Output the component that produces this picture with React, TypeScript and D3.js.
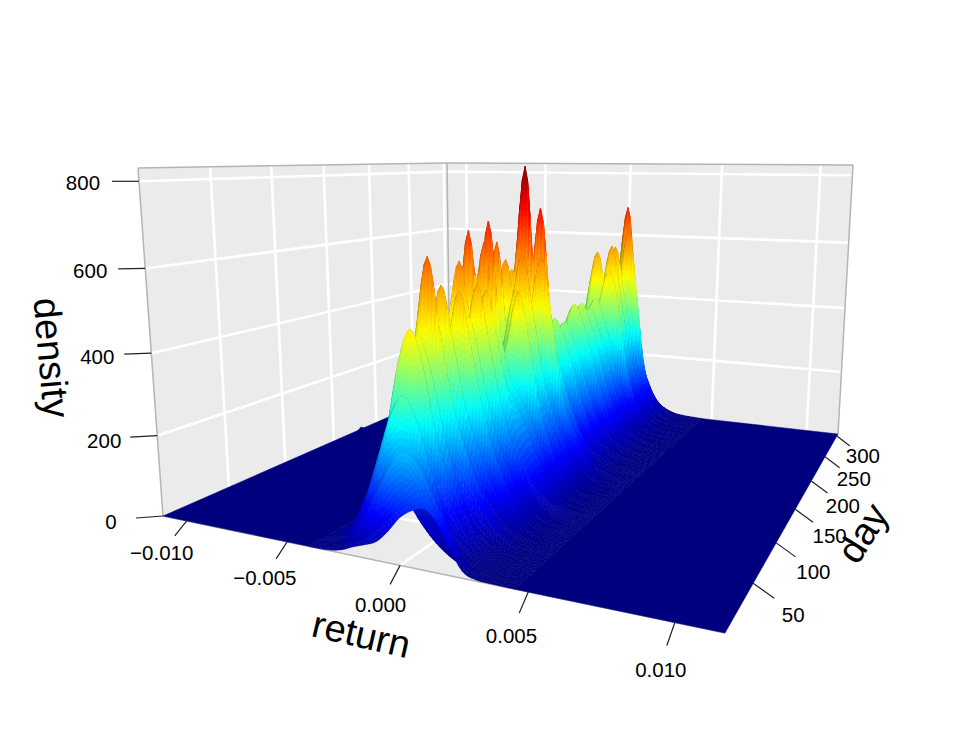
import React, { useMemo } from "react";
import * as d3 from "d3";

const W = 969, H = 754;
const FONT = "'Liberation Sans', Arimo, Helvetica, Arial, sans-serif";

// ---- data ----
const returnTicks = [-0.01, -0.005, 0, 0.005, 0.01];
const returnTickLabels = ["−0.010", "−0.005", "0.000", "0.005", "0.010"];
const dayTicks = [50, 100, 150, 200, 250, 300];
const densityTicks = [0, 200, 400, 600, 800];

const returnGrid = [-0.0035, -0.003, -0.0025, -0.002, -0.0015, -0.001, -0.0005, 0, 0.0005, 0.001, 0.0015, 0.002, 0.0025, 0.003, 0.0035];

const dayGrid = [0, 5, 8, 14, 18, 21, 24, 28, 32, 37, 44, 50, 53, 56, 61, 66, 70, 75, 78, 80, 85, 90, 95, 98, 100, 105, 110, 115, 120, 123, 125, 128, 131, 134, 137, 139, 142, 145, 149, 152, 165, 175, 183, 190, 198, 206, 212, 218, 225, 232, 237, 242, 245, 249, 255, 261, 266, 271, 274, 278, 282, 286, 294, 302, 305];

const densityRows = [
  [0, 2, 8, 20, 30, 42, 70, 105, 125, 135, 110, 60, 15, 3, 1],
  [5, 12, 31, 65, 115, 173, 221, 240, 221, 173, 115, 65, 22, 4, 1],
  [1, 4, 11, 24, 46, 74, 102, 120, 86, 54, 30, 14, 6, 2, 1],
  [12, 32, 67, 133, 220, 308, 350, 308, 220, 133, 67, 28, 8, 2, 0],
  [2, 6, 17, 38, 72, 118, 162, 190, 137, 86, 48, 23, 10, 4, 1],
  [10, 25, 59, 137, 270, 416, 490, 416, 270, 175, 95, 40, 14, 4, 1],
  [3, 8, 23, 52, 99, 161, 221, 260, 187, 117, 65, 31, 13, 5, 2],
  [9, 24, 56, 132, 259, 400, 470, 400, 270, 170, 95, 42, 16, 5, 2],
  [2, 7, 22, 48, 91, 149, 204, 240, 173, 108, 60, 29, 12, 5, 1],
  [9, 24, 55, 110, 232, 470, 640, 470, 320, 225, 150, 95, 50, 20, 7],
  [3, 8, 25, 56, 106, 174, 238, 280, 202, 126, 70, 34, 14, 6, 2],
  [9, 23, 51, 103, 217, 428, 570, 440, 300, 210, 140, 90, 48, 20, 7],
  [3, 9, 26, 58, 110, 180, 247, 290, 209, 131, 73, 35, 15, 6, 2],
  [7, 18, 44, 90, 160, 240, 416, 555, 430, 290, 190, 120, 62, 26, 9],
  [3, 8, 23, 52, 99, 161, 221, 260, 187, 117, 65, 31, 13, 5, 2],
  [4, 10, 25, 59, 137, 270, 416, 490, 380, 255, 165, 105, 55, 24, 8],
  [3, 8, 25, 56, 106, 174, 238, 280, 202, 126, 70, 34, 14, 6, 2],
  [7, 18, 44, 90, 160, 240, 420, 560, 430, 295, 195, 125, 68, 30, 11],
  [3, 9, 27, 60, 114, 186, 255, 300, 216, 135, 75, 36, 15, 6, 2],
  [24, 55, 110, 232, 458, 610, 458, 330, 270, 230, 175, 115, 62, 26, 9],
  [7, 18, 44, 90, 160, 240, 405, 540, 415, 285, 185, 118, 65, 28, 10],
  [20, 44, 99, 197, 422, 680, 422, 340, 300, 255, 195, 128, 72, 33, 12],
  [8, 20, 42, 94, 189, 403, 650, 420, 310, 255, 195, 125, 68, 30, 11],
  [3, 9, 26, 58, 110, 180, 247, 290, 209, 131, 73, 35, 15, 6, 2],
  [9, 21, 46, 102, 203, 434, 700, 450, 320, 265, 205, 135, 75, 34, 12],
  [3, 9, 28, 62, 118, 192, 264, 310, 223, 140, 78, 37, 16, 6, 2],
  [6, 14, 36, 80, 140, 220, 300, 400, 525, 400, 240, 145, 80, 36, 12],
  [3, 9, 27, 60, 114, 186, 255, 300, 216, 135, 75, 36, 15, 6, 2],
  [7, 18, 44, 90, 160, 240, 390, 520, 400, 275, 180, 115, 62, 26, 9],
  [19, 42, 93, 186, 397, 640, 397, 320, 290, 245, 190, 125, 68, 30, 11],
  [3, 9, 26, 58, 110, 180, 247, 290, 209, 131, 73, 35, 15, 6, 2],
  [7, 18, 47, 97, 173, 259, 458, 610, 470, 310, 205, 135, 75, 33, 12],
  [3, 8, 25, 56, 106, 174, 238, 280, 202, 126, 70, 34, 14, 6, 2],
  [24, 53, 106, 224, 443, 590, 443, 330, 290, 245, 185, 120, 66, 29, 10],
  [3, 9, 26, 58, 110, 180, 247, 290, 209, 131, 73, 35, 15, 6, 2],
  [6, 14, 36, 80, 140, 220, 300, 440, 600, 450, 265, 155, 88, 40, 14],
  [22, 50, 101, 202, 420, 560, 420, 330, 290, 245, 185, 120, 66, 29, 10],
  [10, 25, 54, 120, 241, 515, 830, 515, 350, 285, 210, 140, 78, 35, 12],
  [3, 9, 28, 62, 118, 192, 264, 310, 223, 140, 78, 37, 16, 6, 2],
  [7, 17, 44, 92, 163, 245, 446, 720, 446, 300, 200, 130, 72, 32, 11],
  [2, 7, 22, 48, 91, 149, 204, 240, 173, 108, 60, 29, 12, 5, 1],
  [3, 8, 21, 49, 115, 226, 349, 410, 349, 255, 160, 95, 48, 20, 7],
  [2, 6, 19, 42, 80, 130, 179, 210, 151, 95, 53, 25, 11, 4, 1],
  [3, 8, 20, 47, 109, 215, 332, 390, 332, 240, 150, 88, 44, 18, 6],
  [2, 7, 20, 44, 84, 136, 187, 220, 158, 99, 55, 26, 11, 4, 1],
  [3, 9, 22, 52, 120, 237, 366, 430, 366, 265, 165, 95, 48, 20, 7],
  [2, 7, 21, 46, 87, 143, 196, 230, 166, 104, 58, 28, 12, 5, 1],
  [3, 9, 21, 51, 119, 234, 361, 425, 361, 262, 160, 92, 46, 19, 6],
  [2, 7, 22, 48, 91, 149, 204, 240, 173, 108, 60, 29, 12, 5, 1],
  [3, 8, 20, 48, 112, 220, 340, 400, 340, 245, 145, 80, 36, 14, 4],
  [2, 7, 22, 48, 91, 149, 204, 240, 173, 108, 60, 29, 12, 5, 1],
  [3, 9, 21, 51, 119, 234, 361, 425, 361, 255, 145, 75, 32, 12, 4],
  [3, 8, 23, 50, 95, 155, 213, 250, 180, 113, 63, 30, 13, 5, 2],
  [6, 16, 40, 85, 150, 230, 300, 410, 510, 410, 235, 115, 50, 20, 8],
  [3, 8, 23, 52, 99, 161, 221, 260, 187, 117, 65, 31, 13, 5, 2],
  [8, 22, 50, 101, 213, 420, 560, 420, 280, 215, 140, 78, 38, 15, 6],
  [3, 9, 26, 58, 110, 180, 247, 290, 209, 131, 73, 35, 15, 6, 2],
  [7, 18, 44, 90, 160, 240, 431, 575, 431, 270, 160, 80, 30, 10, 3],
  [3, 9, 28, 62, 118, 192, 264, 310, 223, 140, 78, 37, 16, 6, 2],
  [7, 18, 44, 90, 160, 240, 425, 570, 430, 265, 160, 80, 30, 10, 3],
  [3, 9, 28, 62, 118, 192, 264, 310, 223, 140, 78, 37, 16, 6, 2],
  [6, 16, 40, 85, 150, 230, 300, 430, 625, 430, 200, 95, 45, 20, 8],
  [3, 9, 28, 62, 118, 192, 264, 310, 223, 140, 78, 37, 16, 6, 2],
  [3, 8, 21, 45, 100, 200, 428, 690, 428, 200, 100, 45, 21, 8, 3],
  [3, 7, 18, 39, 87, 174, 372, 600, 372, 174, 87, 39, 18, 7, 3],
];

// small outlier on the far left edge of the surface
const outlierReturn = -0.0111;
const outlierDays = [172, 175, 178, 181, 184];
const outlierDensity = [0, 6, 12, 6, 0];

const jetStops = ["#00007F", "#0000FF", "#007FFF", "#00FFFF", "#7FFF7F", "#FFFF00", "#FF7F00", "#FF0000", "#7F0000"];
const jetLevels = [0, 95, 190, 285, 375, 470, 600, 715, 830];

// ---- camera: image of the box's floor and ceiling ----
type Pt = [number, number];
const floorBox: Pt[] = [[163, 516], [725, 633], [838, 434], [450, 390]];
const ceilBox: Pt[] = [[138, 168], [742, 173], [853, 165], [447, 163]];

function homography(q: Pt[]) {
  const [[x0, y0], [x1, y1], [x2, y2], [x3, y3]] = q;
  const dx1 = x1 - x2, dx2 = x3 - x2, sx = x0 - x1 + x2 - x3;
  const dy1 = y1 - y2, dy2 = y3 - y2, sy = y0 - y1 + y2 - y3;
  const den = dx1 * dy2 - dx2 * dy1;
  const g = (sx * dy2 - dx2 * sy) / den;
  const h = (dx1 * sy - sx * dy1) / den;
  const a = x1 - x0 + g * x1, b = x3 - x0 + h * x3;
  const d = y1 - y0 + g * y1, e = y3 - y0 + h * y3;
  return (u: number, v: number): Pt => {
    const w = 1 + g * u + h * v;
    return [(a * u + b * v + x0) / w, (d * u + e * v + y0) / w];
  };
}
const H0 = homography(floorBox);
const H1 = homography(ceilBox);
const uScale = d3.scaleLinear().domain([-0.01127, 0.01156]).range([0, 1]);
const vScale = d3.scaleLinear().domain([0, 305]).range([0, 1]);
const wScale = d3.scaleLinear().domain([0, 830]).range([0, 1]);
const KAPPA = 0.055;
function project(ret: number, day: number, dens: number): Pt {
  const u = uScale(ret), v = vScale(day), w = wScale(dens);
  const t = (w * (1 - KAPPA)) / (1 - KAPPA * w);
  const a = H0(u, v), b = H1(u, v);
  return [a[0] + (b[0] - a[0]) * t, a[1] + (b[1] - a[1]) * t];
}

const jet = d3.scaleLinear<string>().domain(jetLevels).range(jetStops).clamp(true);

// light on the facets: bright when they face the viewer or the sky, a little darker otherwise
const light = [0.7, -0.7, 0.48];
function shaded(dens: number, fu: number, fv: number) {
  const len = Math.hypot(fu, fv, 1);
  const dot = (-fu * light[0] - fv * light[1] + light[2]) / len;
  const k0 = Math.max(0.72, Math.min(1, 0.66 + 0.7 * dot));
  const k = 1 - (1 - k0) * Math.min(1, dens / 130);
  const c = d3.rgb(jet(dens));
  return d3.rgb(c.r * k, c.g * k, c.b * k).formatHex();
}

const poly = d3.line<Pt>().x((p) => p[0]).y((p) => p[1]);
const closed = (pts: Pt[]) => poly(pts) + "Z";

const [retMin, retMax] = uScale.domain();
const [dayMin, dayMax] = vScale.domain();
const [, zTop] = wScale.domain();
const ridgeLo = -0.004, ridgeHi = 0.0045;

function catmull(p0: number, p1: number, p2: number, p3: number, t: number) {
  return 0.5 * (2 * p1 + (p2 - p0) * t + (2 * p0 - 5 * p1 + 4 * p2 - p3) * t * t + (3 * p1 - p0 - 3 * p2 + p3) * t * t * t);
}
const smooth = (t: number) => t * t * (3 - 2 * t);

function buildQuads() {
  const rCols = [ridgeLo, ...returnGrid, ridgeHi];
  const SUB_R = 4;
  const fineR: number[] = [];
  for (let i = 0; i < rCols.length - 1; i++) for (let s = 0; s < SUB_R; s++) fineR.push(rCols[i] + ((rCols[i + 1] - rCols[i]) * s) / SUB_R);
  fineR.push(ridgeHi);
  const fineRow = (row: number[]) => {
    const c = [0, ...row, 0];
    const out: number[] = [];
    for (let i = 0; i < c.length - 1; i++)
      for (let s = 0; s < SUB_R; s++) out.push(Math.max(0, catmull(c[Math.max(0, i - 1)], c[i], c[i + 1], c[Math.min(c.length - 1, i + 2)], s / SUB_R)));
    out.push(0);
    return out;
  };
  const rows = densityRows.map(fineRow);
  const quads: { d: string; c: string }[] = [];
  for (let i = dayGrid.length - 2; i >= 0; i--) {
    const gap = dayGrid[i + 1] - dayGrid[i];
    const cell: { t: number; j: number; d: string; c: string }[] = [];
    for (let j = 0; j < fineR.length - 1; j++) {
      const a0 = rows[i][j], a1 = rows[i][j + 1], b0 = rows[i + 1][j], b1 = rows[i + 1][j + 1];
      const n = Math.max(2, Math.ceil(gap / 2), Math.ceil(Math.max(Math.abs(a0 - b0), Math.abs(a1 - b1)) / 14));
      const tAt = (q: number) => 0.5 * q + 0.5 * (0.5 - Math.sin(Math.asin(1 - 2 * q) / 3));
      const du = uScale(fineR[j + 1]) - uScale(fineR[j]);
      for (let s = 0; s < n; s++) {
        const t0 = tAt(s / n), t1 = tAt((s + 1) / n);
        const e0 = smooth(t0), e1 = smooth(t1);
        const p = a0 + (b0 - a0) * e0, q = a1 + (b1 - a1) * e0;
        const r = a1 + (b1 - a1) * e1, u = a0 + (b0 - a0) * e1;
        const d0 = dayGrid[i] + gap * t0, d1 = dayGrid[i] + gap * t1;
        const dv = vScale(d1) - vScale(d0);
        const fu = (wScale(q + r) - wScale(p + u)) / 2 / du;
        const fv = (wScale(r + u) - wScale(p + q)) / 2 / dv;
        cell.push({
          t: t0,
          j,
          d: closed([project(fineR[j], d0, p), project(fineR[j + 1], d0, q), project(fineR[j + 1], d1, r), project(fineR[j], d1, u)]),
          c: shaded((p + q + r + u) / 4, fu, fv),
        });
      }
    }
    cell.sort((x, y) => y.t - x.t || x.j - y.j);
    cell.forEach((c) => quads.push({ d: c.d, c: c.c }));
  }
  return quads;
}

const GRID = "#ffffff";
const EDGE = "#b4b4b4";
const TEXT = "#000000";

export default function App() {
  const quads = useMemo(buildQuads, []);

  const walls = [
    closed([project(retMin, dayMin, 0), project(retMin, dayMax, 0), project(retMin, dayMax, zTop), project(retMin, dayMin, zTop)]),
    closed([project(retMin, dayMax, 0), project(retMax, dayMax, 0), project(retMax, dayMax, zTop), project(retMin, dayMax, zTop)]),
    closed([project(retMin, dayMin, 0), project(retMax, dayMin, 0), project(retMax, dayMax, 0), project(retMin, dayMax, 0)]),
  ];

  const gridLines: Pt[][] = [];
  returnTicks.forEach((r) => {
    gridLines.push([project(r, dayMin, 0), project(r, dayMax, 0)]);
    gridLines.push([project(r, dayMax, 0), project(r, dayMax, zTop)]);
  });
  dayTicks.forEach((d) => {
    gridLines.push([project(retMin, d, 0), project(retMax, d, 0)]);
    gridLines.push([project(retMin, d, 0), project(retMin, d, zTop)]);
  });
  densityTicks.filter((z) => z > 0).forEach((z) => {
    gridLines.push([project(retMin, dayMin, z), project(retMin, dayMax, z)]);
    gridLines.push([project(retMin, dayMax, z), project(retMax, dayMax, z)]);
  });

  const edges: Pt[][] = [
    [project(retMin, dayMin, zTop), project(retMin, dayMax, zTop)],
    [project(retMin, dayMax, zTop), project(retMax, dayMax, zTop)],
    [project(retMin, dayMin, 0), project(retMin, dayMin, zTop)],
    [project(retMax, dayMax, 0), project(retMax, dayMax, zTop)],
    [project(retMin, dayMax, 0), project(retMin, dayMax, zTop)],
    [project(retMin, dayMin, 0), project(retMax, dayMin, 0)],
  ];

  const flatFloor = [
    closed([project(retMin, dayMin, 0), project(ridgeLo, dayMin, 0), project(ridgeLo, dayMax, 0), project(retMin, dayMax, 0)]),
    closed([project(ridgeHi, dayMin, 0), project(retMax, dayMin, 0), project(retMax, dayMax, 0), project(ridgeHi, dayMax, 0)]),
  ];
  const outlierPath = closed(outlierDays.map((d, i) => project(outlierReturn, d, outlierDensity[i])));

  const retTickDx = d3.scaleLinear().domain([-0.01, 0.01]).range([-12, -8]);
  const retTickDy = d3.scaleLinear().domain([-0.01, 0.01]).range([15, 23]);
  const retLabDx = d3.scaleLinear().domain([-0.01, 0.01]).range([-25, -14]);
  const retLabDy = d3.scaleLinear().domain([-0.01, 0.01]).range([32, 47]);
  const dayTickDx = d3.scaleLinear().domain([50, 300]).range([21, 13]);
  const dayTickDy = d3.scaleLinear().domain([50, 300]).range([15, 10]);
  const dayLabDx = d3.scaleLinear().domain([50, 300]).range([40, 26]);
  const dayLabDy = d3.scaleLinear().domain([50, 300]).range([31, 20]);
  const zTickDy = d3.scaleLinear().domain([0, 800]).range([2, 0]);
  const zLabDx = d3.scaleLinear().domain([0, 800]).range([-52, -56]);
  const zLabDy = d3.scaleLinear().domain([0, 800]).range([6, 1]);

  const textStyle = { fontFamily: FONT, fill: TEXT } as const;

  return (
    <svg width={W} height={H} viewBox={`0 0 ${W} ${H}`} style={{ position: "absolute", left: 0, top: 0, display: "block", background: "#fff" }}>
      {walls.map((d, i) => (
        <path key={i} d={d} fill="#ebebeb" />
      ))}
      {gridLines.map((l, i) => (
        <path key={i} d={poly(l)!} stroke={GRID} strokeWidth={2.6} fill="none" />
      ))}
      {edges.map((l, i) => (
        <path key={i} d={poly(l)!} stroke={EDGE} strokeWidth={1.5} fill="none" />
      ))}
      {flatFloor.map((d, i) => (
        <path key={i} d={d} fill={jetStops[0]} stroke={jetStops[0]} strokeWidth={0.5} />
      ))}
      <path d={outlierPath} fill={jetStops[0]} stroke={jetStops[0]} strokeWidth={0.5} />
      <g>
        {quads.map((q, i) => (
          <path key={i} d={q.d} fill={q.c} stroke={q.c} strokeWidth={0.5} />
        ))}
      </g>

      {returnTicks.map((r, i) => {
        const p = project(r, dayMin, 0);
        return (
          <g key={r}>
            <line x1={p[0]} y1={p[1]} x2={p[0] + retTickDx(r)} y2={p[1] + retTickDy(r)} stroke="#222" strokeWidth={1.2} />
            <text x={p[0] + retLabDx(r)} y={p[1] + retLabDy(r)} dy="0.36em" textAnchor="middle" fontSize={20.5} style={textStyle}>
              {returnTickLabels[i]}
            </text>
          </g>
        );
      })}
      {dayTicks.map((d) => {
        const p = project(retMax, d, 0);
        return (
          <g key={d}>
            <line x1={p[0]} y1={p[1]} x2={p[0] + dayTickDx(d)} y2={p[1] + dayTickDy(d)} stroke="#222" strokeWidth={1.2} />
            <text x={p[0] + dayLabDx(d)} y={p[1] + dayLabDy(d)} dy="0.36em" textAnchor="middle" fontSize={20.5} style={textStyle}>
              {d}
            </text>
          </g>
        );
      })}
      {densityTicks.map((z) => {
        const p = project(retMin, dayMin, z);
        return (
          <g key={z}>
            <line x1={p[0]} y1={p[1]} x2={p[0] - 27} y2={p[1] + zTickDy(z)} stroke="#222" strokeWidth={1.2} />
            <text x={p[0] + zLabDx(z)} y={p[1] + zLabDy(z)} dy="0.36em" textAnchor="middle" fontSize={20.5} style={textStyle}>
              {z}
            </text>
          </g>
        );
      })}

      <text transform="translate(361,636) rotate(13)" dy="0.3em" textAnchor="middle" fontSize={38} style={textStyle}>return</text>
      <text transform="translate(50,358) rotate(85)" dy="0.3em" textAnchor="middle" fontSize={38} style={textStyle}>density</text>
      <text transform="translate(864,534) rotate(-58)" dy="0.3em" textAnchor="middle" fontSize={38} style={textStyle}>day</text>
    </svg>
  );
}
